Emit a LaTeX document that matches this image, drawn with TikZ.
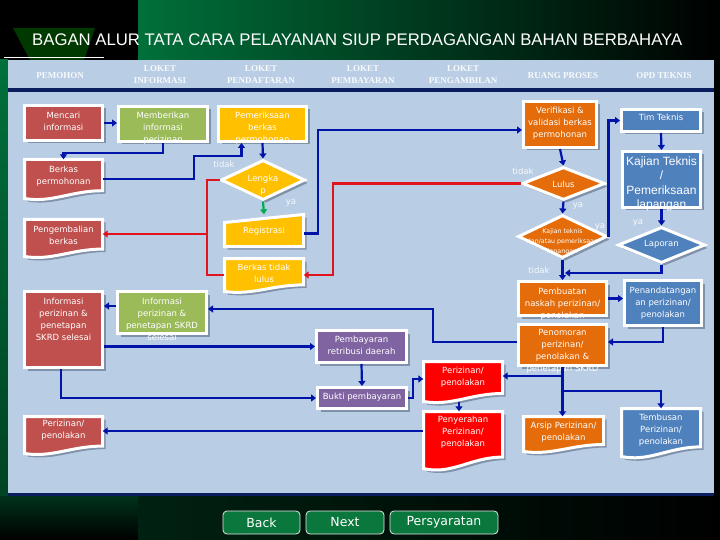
\documentclass[tikz,border=0pt]{standalone}
\usepackage{fontspec}
\usepackage{graphicx}
\setmainfont{DejaVu Sans}
\newfontfamily\dejavu{DejaVu Sans}
\newfontfamily\arialf{Liberation Sans}
\newfontfamily\serifhd{Liberation Serif}
\usetikzlibrary{shapes.geometric,shadows,arrows.meta}
\definecolor{cRB}{HTML}{C0504D}
\definecolor{cGR}{HTML}{9BBB59}
\definecolor{cAM}{HTML}{FFC000}
\definecolor{cPU}{HTML}{8064A2}
\definecolor{cRD}{HTML}{FF0000}
\definecolor{cOR}{HTML}{E46C0A}
\definecolor{cBL}{HTML}{4F81BD}
\definecolor{panel}{HTML}{B9CDE5}
\definecolor{navy}{RGB}{10,30,95}
\definecolor{arrblue}{RGB}{0,20,170}
\definecolor{arrred}{RGB}{225,20,30}
\definecolor{arrgreen}{RGB}{0,170,80}
\definecolor{topgreen}{RGB}{0,112,58}
\definecolor{btngreen}{RGB}{10,120,60}
\definecolor{shadowc}{RGB}{105,120,145}
\newcommand\boxnode[9][]{%
  \node[boxst, fill=#7, minimum width=#5pt, minimum height=#6pt] (#2) at (#3,#4) {};
  \node[txt,#1] (#2t) at (#3,#8) {#9};
}
\newcommand\docnode[9][]{%
  \path[boxst, fill=#7] ({#3-#5/2},{#4-#6/2}) -- ({#3+#5/2},{#4-#6/2}) -- ({#3+#5/2},{#4+#6/2-0.2*#6})
    .. controls ({#3+0.1*#5},{#4+#6/2-0.2*#6}) and ({#3-0.15*#5},{#4+#6/2+0.12*#6}) .. ({#3-#5/2},{#4+#6/2}) -- cycle;
  \node[anch, minimum width=#5pt, minimum height=#6pt] (#2) at (#3,#4) {};
  \node[txt,#1] (#2t) at (#3,#8) {#9};
}
\begin{document}
\begin{tikzpicture}[x=1pt,y=-1pt,
  boxst/.style={draw=white, line width=3pt, inner sep=0pt, drop shadow={shadow xshift=3pt, shadow yshift=-3pt, fill=shadowc, opacity=0.7}},
  anch/.style={draw=none, fill=none, inner sep=0pt, rectangle},
  txt/.style={text=white, align=center, inner sep=0pt, font=\dejavu\fontsize{8.5}{12}\selectfont},
  diam/.style={diamond, draw=white, line width=3pt, inner sep=0pt, drop shadow={shadow xshift=3pt, shadow yshift=-3pt, fill=shadowc, opacity=0.7}},
  bl/.style={draw=arrblue, line width=2.2pt},
  rl/.style={draw=arrred, line width=2.2pt},
  gl/.style={draw=arrgreen, line width=2.2pt},
  arw/.style={-{Triangle[length=5pt,width=7pt]}},
  lab/.style={text=white!90!panel, inner sep=0pt, font=\dejavu\fontsize{8.5}{10}\selectfont},
  hdr/.style={text=white!90!panel, align=center, inner sep=0pt, font=\serifhd\bfseries\fontsize{9}{12}\selectfont},
  btn/.style={rounded corners=4pt, fill=btngreen, draw=white!80!gray, line width=0.8pt, minimum height=23pt, text=white, inner sep=0pt, font=\dejavu\fontsize{12.5}{14}\selectfont}
]
\useasboundingbox (0,0) rectangle (720,540);
% background
\fill[black] (0,0) rectangle (720,540);
\shade[left color=topgreen, right color=black] (138,0) rectangle (720,60);
\fill[green!45!black, opacity=0.5] (13,28) -- (95,28) -- (84,60) -- (30,60) -- cycle;
\draw[white, line width=1pt] (4,58) -- (104,58);
\shade[top color=topgreen, bottom color=topgreen!60!black] (0,60) rectangle (8,496);
\shade[top color=topgreen!45!black, bottom color=black] (0,496) rectangle (138,540);
\shade[left color=topgreen!30!black, right color=black] (138,496) rectangle (720,540);
% panel
\fill[panel] (8,60) rectangle (714,493);
\fill[navy] (8,88.5) rectangle (714,92);
\fill[navy] (8,493) rectangle (714,496);
% title
\node[anchor=base west, inner sep=0pt, text=white] (title) at (32,46) {\resizebox{650pt}{11.7pt}{\arialf BAGAN ALUR TATA CARA PELAYANAN SIUP PERDAGANGAN BAHAN BERBAHAYA}};
% headers
\node[hdr] (h1) at (60,76) {PEMOHON};
\node[hdr] (h2) at (160,75) {LOKET\\INFORMASI};
\node[hdr] (h3) at (261,75) {LOKET\\PENDAFTARAN};
\node[hdr] (h4) at (363,75) {LOKET\\PEMBAYARAN};
\node[hdr] (h5) at (463,75) {LOKET\\PENGAMBILAN};
\node[hdr] (h6) at (563,76) {RUANG PROSES};
\node[hdr] (h7) at (664,76) {OPD TEKNIS};
% nodes
\boxnode{mencari}{63.5}{123}{78}{35}{cRB}{121}{Mencari\\informasi}
\boxnode{memberi}{163}{124}{89}{35}{cGR}{128}{Memberikan\\informasi\\perizinan}
\boxnode{pem}{262.5}{124}{88}{35}{cAM}{128}{Pemeriksaan\\berkas\\permohonan}
\docnode{berkasp}{63.5}{179}{78}{39}{cRB}{176.5}{Berkas\\permohonan}
\node[diam, fill=cAM, minimum width=84pt, minimum height=40pt] (lengkap) at (263,180) {};
\node[txt] (lengkapt) at (263,185) {Lengka\\p};
\path[boxst, fill=cAM] (224.5,222.5) -- (303.5,214.5) -- (303.5,246.5) -- (224.5,246.5) -- cycle;
\node[anch, minimum width=79pt, minimum height=32pt] (reg) at (264,230.5) {};
\node[txt] (regt) at (264,231) {Registrasi};
\docnode{pengemb}{63.5}{238}{78}{37}{cRB}{235.5}{Pengembalian\\berkas}
\docnode{btl}{264}{275}{79}{33}{cAM}{273.5}{Berkas tidak\\lulus}
\boxnode{infored}{63.5}{329.5}{78}{76}{cRB}{319}{Informasi\\perizinan \&\\penetapan\\SKRD selesai}
\boxnode{infogreen}{162}{312.5}{89}{42}{cGR}{319}{Informasi\\perizinan \&\\penetapan SKRD\\selesai}
\boxnode{pembayaran}{361.5}{346.5}{90}{32}{cPU}{345.5}{Pembayaran\\retribusi daerah}
\boxnode{bukti}{362}{398}{89}{21}{cPU}{397}{Bukti pembayaran}
\docnode{perizin}{463}{381.5}{79}{40}{cRD}{377}{Perizinan/\\penolakan}
\docnode{penyer}{463}{440}{79}{57}{cRD}{432.5}{Penyerahan\\Perizinan/\\penolakan}
\docnode{perleft}{63.5}{435}{78}{37}{cRB}{430.5}{Perizinan/\\penolakan}
\boxnode{verif}{560}{124.5}{73}{46}{cOR}{123.5}{Verifikasi \&\\validasi berkas\\permohonan}
\node[diam, fill=cOR, minimum width=83pt, minimum height=33pt] (lulus) at (563.5,183.5) {};
\node[txt] (lulust) at (563.5,184) {Lulus};
\node[diam, fill=cOR, minimum width=89pt, minimum height=43pt] (kajdiam) at (562.5,236.5) {};
\node[txt, font=\dejavu\fontsize{6.3}{10}\selectfont] (kajdiamt) at (562.5,242) {Kajian teknis\\dan/atau pemeriksaan\\lapangan};
\boxnode{tim}{661}{120.5}{79}{22}{cBL}{117}{Tim Teknis}
\boxnode[font=\arialf\fontsize{12}{14.5}\selectfont]{kajbox}{661.5}{179.5}{78}{56}{cBL}{184}{Kajian Teknis\\/\\Pemeriksaan\\lapangan}
\node[diam, fill=cBL, minimum width=87pt, minimum height=36pt] (laporan) at (661.5,245) {};
\node[txt] (laporant) at (661.5,244) {Laporan};
\boxnode{pembuatan}{562.5}{298.5}{88}{34}{cOR}{304}{Pembuatan\\naskah perizinan/\\penolakan}
\boxnode{penand}{663}{303}{77}{45}{cBL}{303}{Penandatangan\\an perizinan/\\penolakan}
\boxnode{penom}{562.5}{345}{88}{41}{cOR}{351.5}{Penomoran\\perizinan/\\penolakan \&\\penetapan SKRD}
\docnode{arsip}{563.5}{434}{80}{35}{cOR}{432}{Arsip Perizinan/\\penolakan}
\docnode{tembusan}{661}{432.5}{79}{48}{cBL}{430}{Tembusan\\Perizinan/\\penolakan}
% connectors
\draw[bl,arw] (mencari.east) -- (mencari.east -| memberi.west);
\draw[bl,arw] (memberi.south) -- ++(0,10) -| (berkasp.north);
\coordinate (b1) at (194,156);
\draw[bl,arw] (berkasp.east) -| (b1) -| ([xshift=-21pt]pem.south);
\draw[bl,arw] (pem.south) -- (lengkap.north);
\draw[gl,arw] (lengkap.south) -- (reg.north);
\coordinate (rx) at (207,234);
\draw[rl] (lengkap.west) -| (rx) |- (btl.west);
\draw[rl,arw] (rx) -- (rx -| pengemb.east);
\coordinate (r2) at (333,250);
\draw[rl,arw] (lulus.west) -| (r2) |- (btl.east);
\coordinate (b2) at (318,180);
\draw[bl,arw] ([yshift=-3pt]reg.east) -| (b2) |- ([yshift=-5.5pt]verif.west);
\draw[bl,arw] (verif.south) -- (lulus.north);
\draw[bl,arw] (lulus.south) -- (kajdiam.north);
\draw[bl,arw] (kajdiam.east) |- (tim.west);
\draw[bl,arw] (tim.south) -- (kajbox.north);
\draw[bl,arw] (kajbox.south) -- (laporan.north);
\draw[bl,arw] (kajdiam.south) -- (pembuatan.north);
\coordinate (j1) at (565,273);
\draw[bl,arw] (laporan.south) |- (j1);
\draw[bl,arw] (pembuatan.east) -- (pembuatan.east -| penand.west);
\draw[bl,arw] (penand.south) |- ([yshift=3pt]penom.east);
\coordinate (b3) at (433,320);
\draw[bl,arw] ([yshift=3pt]penom.west) -| (b3) |- ([yshift=3.5pt]infogreen.east);
\coordinate (j5) at ([yshift=6.5pt]infogreen.west);
\draw[bl,arw] (j5) -- (j5 -| infored.east);
\draw[bl,arw] (infored.east |- pembayaran.west) -- (pembayaran.west);
\draw[bl,arw] ([xshift=-2.5pt]infored.south) |- (bukti.west);
\draw[bl,arw] (pembayaran.south) -- (bukti.north);
\coordinate (b4) at (413,388);
\draw[bl,arw] (bukti.east) -| (b4) |- ([yshift=2.5pt]perizin.west);
\draw[bl,arw] (penom.south) -- (penom.south |- arsip.north);
\coordinate (j2) at (562.5,376);
\draw[bl,arw] (j2) -- (j2 -| perizin.east);
\coordinate (j3) at (562.5,391);
\draw[bl,arw] (j3) -| (tembusan.north);
\draw[bl,arw] ([xshift=-4pt]perizin.south) -- ([xshift=-4pt]penyer.north);
\coordinate (j4) at ([yshift=9pt]penyer.west);
\draw[bl,arw] (j4) -- (j4 -| perleft.east);
% labels
\node[lab] (l1) at (224,164) {tidak};
\node[lab] (l2) at (291,203) {ya};
\node[lab] (l3) at (523,171) {tidak};
\node[lab] (l4) at (578,206) {ya};
\node[lab] (l5) at (600,227) {ya};
\node[lab] (l6) at (539,270) {tidak};
\node[lab] (l7) at (638,223) {ya};
% buttons
\node[btn, minimum width=77pt] (back) at (261.5,522.5) {Back};
\node[btn, minimum width=78pt] (next) at (345,522.5) {Next};
\node[btn, minimum width=108pt] (persy) at (444,522.5) {Persyaratan};
\end{tikzpicture}
\end{document}
